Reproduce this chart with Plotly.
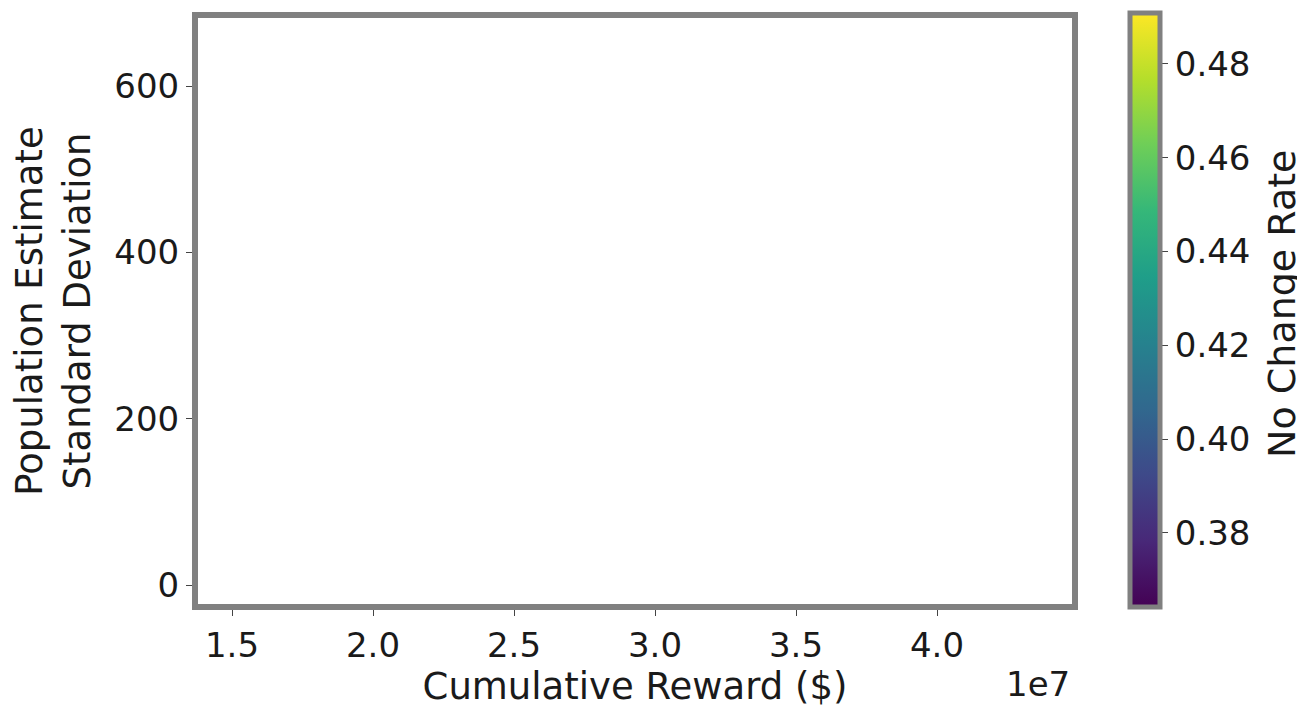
import plotly.graph_objects as go

# Data (the reference plot area shows no visible points)
cumulative_reward = []
population_sd = []
no_change_rate = []

# Axis ranges / ticks
x_range = [1.3794e7, 4.4787e7]
y_range = [-22.8, 681.8]
x_tick_vals = [1.5e7, 2.0e7, 2.5e7, 3.0e7, 3.5e7, 4.0e7]
x_tick_text = ["1.5", "2.0", "2.5", "3.0", "3.5", "4.0"]
y_tick_vals = [0, 200, 400, 600]
color_range = [0.36412, 0.49077]
color_tick_vals = [0.38, 0.40, 0.42, 0.44, 0.46, 0.48]
color_tick_text = ["0.38", "0.40", "0.42", "0.44", "0.46", "0.48"]

FONT = "DejaVu Sans"
TXT = "#1a1a1a"
FRAME = "#808080"

fig = go.Figure()

fig.add_trace(go.Scatter(
    x=cumulative_reward, y=population_sd, mode="markers",
    marker=dict(color=no_change_rate, colorscale="Viridis",
                cmin=color_range[0], cmax=color_range[1], showscale=False),
    showlegend=False, hoverinfo="skip",
))

# colorbar carrier (no visible marks)
fig.add_trace(go.Scatter(
    x=[None, None], y=[None, None], mode="markers",
    marker=dict(
        color=color_range, colorscale="Viridis",
        cmin=color_range[0], cmax=color_range[1], showscale=True,
        colorbar=dict(
            title=dict(text=""),
            tickvals=color_tick_vals, ticktext=color_tick_text,
            tickfont=dict(family=FONT, size=34, color=TXT),
            ticks="outside", ticklen=6, tickcolor="#444", tickwidth=1,
            outlinecolor=FRAME, outlinewidth=5,
            thickness=30, len=594, lenmode="pixels",
            y=0.5009, yanchor="middle",
            x=1.0658, xanchor="left", xpad=0, ypad=0,
        ),
    ),
    showlegend=False, hoverinfo="skip",
))

fig.update_xaxes(
    range=x_range, tickvals=x_tick_vals, ticktext=x_tick_text,
    showgrid=False, zeroline=False,
    showline=True, mirror=True, linecolor=FRAME, linewidth=6,
    ticks="outside", ticklen=6, tickcolor="#444", tickwidth=1,
    tickfont=dict(family=FONT, size=34, color=TXT),
    title=dict(text="Cumulative Reward ($)", standoff=6,
               font=dict(family=FONT, size=37, color=TXT)),
)
fig.update_yaxes(
    range=y_range, tickvals=y_tick_vals,
    showgrid=False, zeroline=False,
    showline=True, mirror=True, linecolor=FRAME, linewidth=6,
    ticks="outside", ticklen=6, tickcolor="#444", tickwidth=1,
    tickfont=dict(family=FONT, size=34, color=TXT),
    title=dict(text="Population Estimate<br>Standard Deviation", standoff=14,
               font=dict(family=FONT, size=37, color=TXT)),
)

fig.add_annotation(
    text="1e7", xref="paper", yref="paper", x=1.0, y=-0.1365,
    xanchor="right", yanchor="middle", showarrow=False,
    font=dict(family=FONT, size=34, color=TXT),
)
fig.add_annotation(
    text="No Change Rate", xref="paper", yref="paper", x=1.2403, y=0.512,
    xanchor="center", yanchor="middle", textangle=-90, showarrow=False,
    font=dict(family=FONT, size=38, color=TXT),
)

fig.update_layout(
    width=1297, height=701,
    margin=dict(l=190, r=233, t=10, b=105, autoexpand=False),
    paper_bgcolor="white", plot_bgcolor="white",
    font=dict(family=FONT, color=TXT),
)

fig.write_html("out.html")
